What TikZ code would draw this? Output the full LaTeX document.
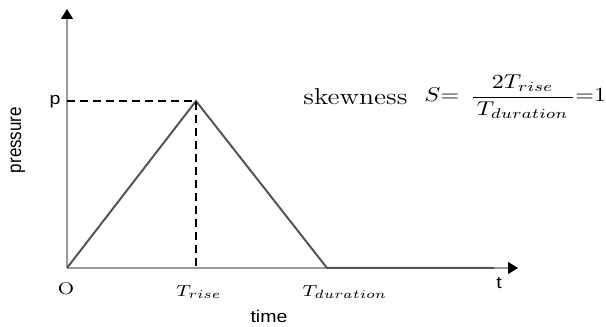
\documentclass[tikz,border=0pt]{standalone}
\usepackage{fontspec}
\setsansfont{Liberation Sans}
\usepackage{amsmath}
\usepackage{xcolor}
\usepackage{tikz}
\usetikzlibrary{arrows.meta}
\definecolor{axisgrey}{HTML}{9A9A9A}
\definecolor{curvegrey}{HTML}{555555}
\newcommand{\sanslbl}{\sffamily\fontsize{8.5}{10}\selectfont}

\begin{document}
\begin{tikzpicture}[x=0.5pt, y=0.5pt,
    axisline/.style={draw=axisgrey, line width=0.6pt,
                     -{Triangle[color=black, length=5pt, width=6pt]}},
    pulse/.style={draw=curvegrey, line width=1pt},
    guide/.style={draw=black, line width=0.7pt, dash pattern=on 4pt off 2.5pt},
    ticklbl/.style={font=\fontsize{8.5}{10}\selectfont, xscale=1.2, inner sep=0pt},
    sanslbl/.style={font=\sanslbl, xscale=1.15, inner sep=0pt},
    formula/.style={xscale=1.2, inner sep=0pt, anchor=base west}]
      \useasboundingbox (0,0) rectangle (606,327);
      % axes
      \coordinate (origin) at (67,59);
      \coordinate (xtip) at (518,59);
      \coordinate (ytip) at (67,318);
      \draw[axisline] (origin) -- (xtip);
      \draw[axisline] (origin) -- (ytip);
      % triangular pulse
      \coordinate (peak) at (196,226);
      \coordinate (plevel) at (67,226);
      \coordinate (riseend) at (196,59);
      \coordinate (durend) at (327,59);
      \coordinate (tailend) at (494,59);
      \draw[pulse] (origin) -- (peak) -- (durend) -- (tailend);
      \draw[guide] (plevel) -- (peak) -- (riseend);
      % labels
      \node[sanslbl] (plbl) at (55,225) {p};
      \node[sanslbl, rotate=90, xscale=1] (ylbl) at (18,187) {pressure};
      \node[sanslbl] (xlbl) at (269,11) {time};
      \node[sanslbl] (tlbl) at (499,44) {t};
      \node[ticklbl] (olbl) at (66,38) {O};
      \node[ticklbl] (riselbl) at (199,35) {$T_{rise}$};
      \node[ticklbl] (durlbl) at (345,35) {$T_{duration}$};
      \node[formula, font=\fontsize{11.5}{13}\selectfont] (skewtxt) at (303,222)
        {skewness};
      \node[formula, font=\fontsize{10}{12}\selectfont] (skewfrm) at (424,225)
        {$S{=}\mskip8mu\dfrac{2T_{rise}}{\,T_{duration}\,}{=}1$};
    \end{tikzpicture}
\end{document}
